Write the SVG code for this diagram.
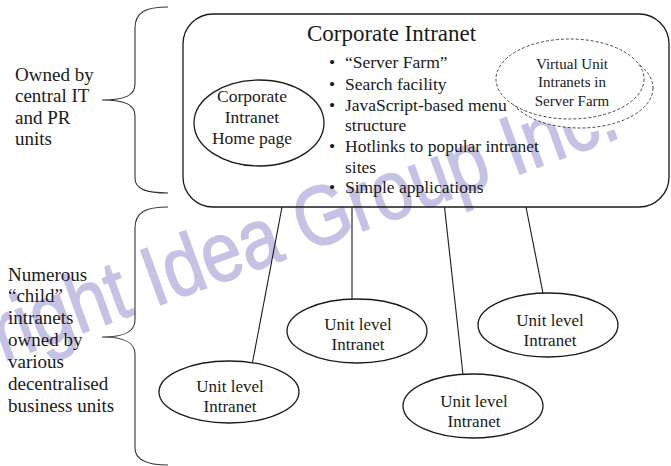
<svg xmlns="http://www.w3.org/2000/svg" width="671" height="466" viewBox="0 0 671 466">
<style>
text{font-family:"Liberation Serif","Times New Roman",serif;fill:#1a1a1a}
.lbl{font-size:19px}
.blt{font-size:17.5px}
.node{fill:none;stroke:#1a1a1a;stroke-width:1.3}
.unit text{font-size:17px;text-anchor:middle}
.dash{fill:#fff;stroke:#333;stroke-width:0.9;stroke-dasharray:3 2}
.brace{fill:none;stroke:#333;stroke-width:1.1}
.conn line{stroke:#1a1a1a;stroke-width:1.1}
.wm{font-family:"Liberation Sans",Arial,sans-serif;font-size:84px;fill:#c6c2e6;stroke:#c6c2e6;stroke-width:1.5}
</style>
<rect width="671" height="466" fill="#fff"/>
<text class="wm" x="3" y="362" transform="rotate(-20 3 362)" textLength="660" lengthAdjust="spacingAndGlyphs">right Idea Group Inc.</text>

<g id="braces">
<path class="brace" d="M168,7 C146,7 135,12 135,28 L135,84 C135,95 126,100 102,100 C126,100 135,105 135,116 L135,178 C135,189 146,193 168,193"/>
<path class="brace" d="M168,207 C146,207 135,212 135,228 L135,320 C135,331 126,337 102,337 C126,337 135,343 135,354 L135,448 C135,460 146,465 168,465"/>
</g>

<g id="label-central">
<text class="lbl" x="15" y="80.5">Owned by</text>
<text class="lbl" x="15" y="102">central IT</text>
<text class="lbl" x="15" y="123.5">and PR</text>
<text class="lbl" x="15" y="145">units</text>
</g>
<g id="label-child">
<text class="lbl" x="8" y="280.5">Numerous</text>
<text class="lbl" x="8" y="302.4">“child”</text>
<text class="lbl" x="8" y="324.3">intranets</text>
<text class="lbl" x="8" y="346.2">owned by</text>
<text class="lbl" x="8" y="368.1">various</text>
<text class="lbl" x="8" y="390">decentralised</text>
<text class="lbl" x="8" y="412">business units</text>
</g>

<g class="conn" id="connectors">
<line x1="282" y1="207" x2="252.5" y2="362.5"/>
<line x1="352" y1="207" x2="352" y2="299.2"/>
<line x1="444.5" y1="207" x2="463" y2="374.5"/>
<line x1="526" y1="207" x2="543" y2="293.2"/>
</g>

<g id="corporate-intranet">
<rect class="node" x="183" y="14" width="486" height="193" rx="30" ry="30"/>
<text x="391.5" y="41" font-size="23" text-anchor="middle">Corporate Intranet</text>
<g class="blt">
<text x="329" y="68">•</text><text x="345" y="68">“Server Farm”</text>
<text x="329" y="90">•</text><text x="345" y="90">Search facility</text>
<text x="329" y="110.5">•</text><text x="345" y="110.5">JavaScript-based menu</text>
<text x="345" y="131">structure</text>
<text x="329" y="152">•</text><text x="345" y="152">Hotlinks to popular intranet</text>
<text x="345" y="172.5">sites</text>
<text x="329" y="193">•</text><text x="345" y="193">Simple applications</text>
</g>
</g>

<g id="home-page">
<ellipse class="node" cx="259" cy="123" rx="65" ry="43"/>
<g font-size="17.5" text-anchor="middle">
<text x="252" y="102">Corporate</text>
<text x="252" y="123">Intranet</text>
<text x="252" y="143.5">Home page</text>
</g>
</g>

<g id="virtual-unit-intranets">
<ellipse class="dash" cx="580" cy="88" rx="73" ry="40"/>
<ellipse class="dash" cx="570" cy="79" rx="74" ry="40"/>
<g font-size="15" text-anchor="middle">
<text x="572" y="68.5">Virtual Unit</text>
<text x="572" y="87">Intranets in</text>
<text x="572" y="105.5">Server Farm</text>
</g>
</g>

<g id="unit-1" class="unit">
<ellipse class="node" cx="229" cy="392" rx="70" ry="31"/>
<text x="230" y="392">Unit level</text>
<text x="230" y="412">Intranet</text>
</g>
<g id="unit-2" class="unit">
<ellipse class="node" cx="357" cy="331" rx="70" ry="32"/>
<text x="358" y="330">Unit level</text>
<text x="358" y="350">Intranet</text>
</g>
<g id="unit-3" class="unit">
<ellipse class="node" cx="473" cy="406" rx="70" ry="32"/>
<text x="474" y="407">Unit level</text>
<text x="474" y="427">Intranet</text>
</g>
<g id="unit-4" class="unit">
<ellipse class="node" cx="548" cy="325" rx="70" ry="32"/>
<text x="550" y="326">Unit level</text>
<text x="550" y="346">Intranet</text>
</g>
</svg>
